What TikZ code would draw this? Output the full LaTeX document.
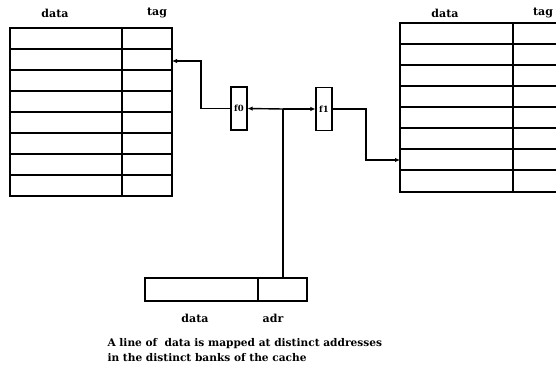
\documentclass[tikz,border=0pt]{standalone}
\usepackage{fontspec}
\setmainfont{DejaVu Serif}[BoldFont={DejaVu Serif Bold}]
\usetikzlibrary{arrows.meta}
\begin{document}
\begin{tikzpicture}[x=1pt, y=-1pt,
    bank/.style={draw, line width=1.8pt, inner sep=0pt},
    fbox/.style={draw, line width=1.2pt, minimum width=16pt, minimum height=43pt, inner sep=0pt, font=\bfseries\fontsize{8.5}{9}\selectfont},
    link/.style={line width=1.4pt},
    tip/.style={-{Latex[length=5pt,width=4.5pt]}},
    lbl/.style={font=\bfseries\fontsize{11}{12}\selectfont}]
  % Page frame
  \useasboundingbox (0,0) rectangle (556,367);
  \clip (0,0) rectangle (556,367);

  % Left bank
  \node[bank, minimum width=162pt, minimum height=168pt] (bank0) at (91,112) {};
  \foreach \i in {1,...,7}
    \draw[line width=1.8pt] (10,28+21*\i) -- (172,28+21*\i);
  \draw[line width=1.8pt] (122,28) -- (122,196);
  \node[lbl] (data0) at (55,13) {data};
  \node[lbl] (tag0) at (157,13) {tag};

  % Right bank
  \node[bank, minimum width=162pt, minimum height=169pt] (bank1) at (481,107.5) {};
  \foreach \i in {1,...,7}
    \draw[line width=1.8pt] (400,23+21*\i) -- (562,23+21*\i);
  \draw[line width=1.8pt] (513,23) -- (513,192);
  \node[lbl] (data1) at (445,13) {data};
  \node[lbl] (tag1) at (543,13) {tag};

  % Mapping functions
  \node[fbox] (f0) at (239,108.5) {f0};
  \node[fbox] (f1) at (324,109) {f1};
  \coordinate (junc) at (283,109);

  % Address register
  \node[bank, minimum width=162pt, minimum height=23pt] (addr) at (226,289.5) {};
  \draw[line width=1.8pt] (258,278) -- (258,301);
  \node[lbl] (adata) at (195,318) {data};
  \node[lbl] (aadr) at (273,318) {adr};

  % Connectors
  \coordinate (turn0) at (201,61);
  \coordinate (in0) at (172,61);
  \coordinate (turn1) at (366,160);
  \coordinate (in1) at (400,160);
  \draw[link] (junc) -- (junc |- addr.north);
  \draw[link, tip] (junc) -- (f0.east);
  \draw[link, tip] (junc) -- (f1.west);
  \draw[link, tip] (f0.west) -| (turn0) -- (in0);
  \draw[link, tip] (f1.east) -| (turn1) -- (in1);

  % Caption
  \node[lbl, anchor=west, align=left, font=\bfseries\fontsize{10.6}{15}\selectfont] (cap) at (104,350.5)
    {A line of \ data is mapped at distinct addresses\\in the distinct banks of the cache};
\end{tikzpicture}
\end{document}
